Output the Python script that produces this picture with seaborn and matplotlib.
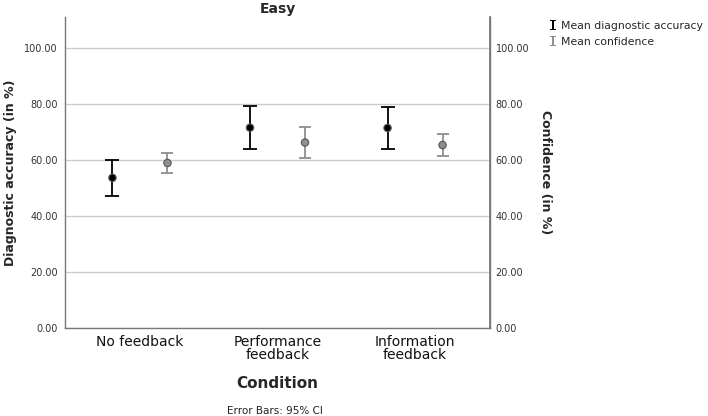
import matplotlib
matplotlib.use("Agg")
import matplotlib.pyplot as plt
import matplotlib.ticker as mticker
from matplotlib.lines import Line2D
import numpy as np
import pandas as pd
import seaborn as sns

# values (means and 95% CI bounds, in %)
CONDITIONS = ["No feedback", "Performance\nfeedback", "Information\nfeedback"]
ACC_MEAN = [53.6, 71.5, 71.4]
ACC_LOW = [47.0, 63.9, 63.9]
ACC_HIGH = [60.1, 79.1, 78.9]
CONF_MEAN = [58.9, 66.2, 65.3]
CONF_LOW = [55.4, 60.6, 61.4]
CONF_HIGH = [62.4, 71.9, 69.3]
Y_TICKS = [0, 20, 40, 60, 80, 100]

ACC_COLOR = "#000000"
CONF_COLOR = "#8f8f8f"


def build_frame():
    rows = []
    for i, cond in enumerate(CONDITIONS):
        rows.append({"pos": i - 0.2, "condition": cond, "measure": "Mean diagnostic accuracy",
                     "mean": ACC_MEAN[i], "low": ACC_LOW[i], "high": ACC_HIGH[i]})
        rows.append({"pos": i + 0.2, "condition": cond, "measure": "Mean confidence",
                     "mean": CONF_MEAN[i], "low": CONF_LOW[i], "high": CONF_HIGH[i]})
    return pd.DataFrame(rows)


def main():
    df = build_frame()

    sns.set_theme(style="whitegrid")
    plt.rcParams["font.family"] = ["DejaVu Sans"]

    fig = plt.figure(figsize=(7.08, 4.16), dpi=100)
    ax = fig.add_axes([0.0918, 0.2115, 0.6003, 0.7476])

    # error bars
    handles = []
    for measure, color, cap in [("Mean diagnostic accuracy", ACC_COLOR, 5),
                                ("Mean confidence", CONF_COLOR, 4.3)]:
        sub = df[df["measure"] == measure]
        yerr = np.vstack([sub["mean"] - sub["low"], sub["high"] - sub["mean"]])
        ax.errorbar(sub["pos"], sub["mean"], yerr=yerr, fmt="none",
                    ecolor=color, elinewidth=1.3, capsize=cap, capthick=1.3,
                    zorder=3)
        handles.append(Line2D([], [], linestyle="none", marker=r"$\mathtt{I}$",
                              markersize=7, markeredgewidth=0, color=color,
                              label=measure))

    # means
    sns.scatterplot(data=df, x="pos", y="mean", hue="measure",
                    palette={"Mean diagnostic accuracy": ACC_COLOR,
                             "Mean confidence": CONF_COLOR},
                    s=28, edgecolor="#555555", linewidth=0.8, zorder=4,
                    legend=False, ax=ax)

    ax.set_xlim(-0.545, 2.545)
    ax.set_ylim(0, 111)
    ax.set_xticks(range(len(CONDITIONS)))
    ax.set_xticklabels(CONDITIONS, fontsize=10, linespacing=0.95)
    ax.set_yticks(Y_TICKS)
    ax.yaxis.set_major_formatter(mticker.FormatStrFormatter("%.2f"))
    ax.tick_params(axis="y", labelsize=7, colors="#333333", length=0, pad=5)
    ax.tick_params(axis="x", length=0, pad=5, colors="#111111")
    ax.grid(axis="x", visible=False)
    ax.grid(axis="y", color="#cccccc", linewidth=1)

    for side in ["left", "bottom", "right"]:
        ax.spines[side].set_visible(True)
        ax.spines[side].set_color("#777777")
        ax.spines[side].set_linewidth(1)
    ax.spines["top"].set_visible(False)

    ax.set_xlabel("Condition", fontsize=11, fontweight="bold", labelpad=10)
    ax.set_ylabel("Diagnostic accuracy (in %)", fontsize=9, fontweight="bold")
    ax.yaxis.set_label_coords(-0.113, 0.5)
    ax.set_title("Easy", fontsize=10, fontweight="bold", pad=3)

    ax2 = ax.twinx()
    ax2.set_ylim(ax.get_ylim())
    ax2.set_yticks(Y_TICKS)
    ax2.yaxis.set_major_formatter(mticker.FormatStrFormatter("%.2f"))
    ax2.tick_params(axis="y", labelsize=7, colors="#333333", length=0, pad=4)
    ax2.grid(False)
    for side in ["left", "bottom", "top"]:
        ax2.spines[side].set_visible(False)
    ax2.spines["right"].set_color("#777777")
    ax2.set_ylabel("Confidence (in %)", fontsize=9, fontweight="bold", rotation=-90)
    ax2.yaxis.set_label_coords(1.146, 0.5)

    fig.text(0.3885, 0.012, "Error Bars: 95% CI", ha="center", va="center",
             fontsize=7.5, color="#222222")

    fig.legend(handles=handles, labels=[h.get_label() for h in handles],
               loc="upper left", bbox_to_anchor=(0.776, 0.95), frameon=False,
               fontsize=7.8, handlelength=0.6, handletextpad=0.5,
               labelspacing=0.55, borderpad=0, borderaxespad=0)

    fig.savefig("out.png", dpi=100)


if __name__ == "__main__":
    main()
